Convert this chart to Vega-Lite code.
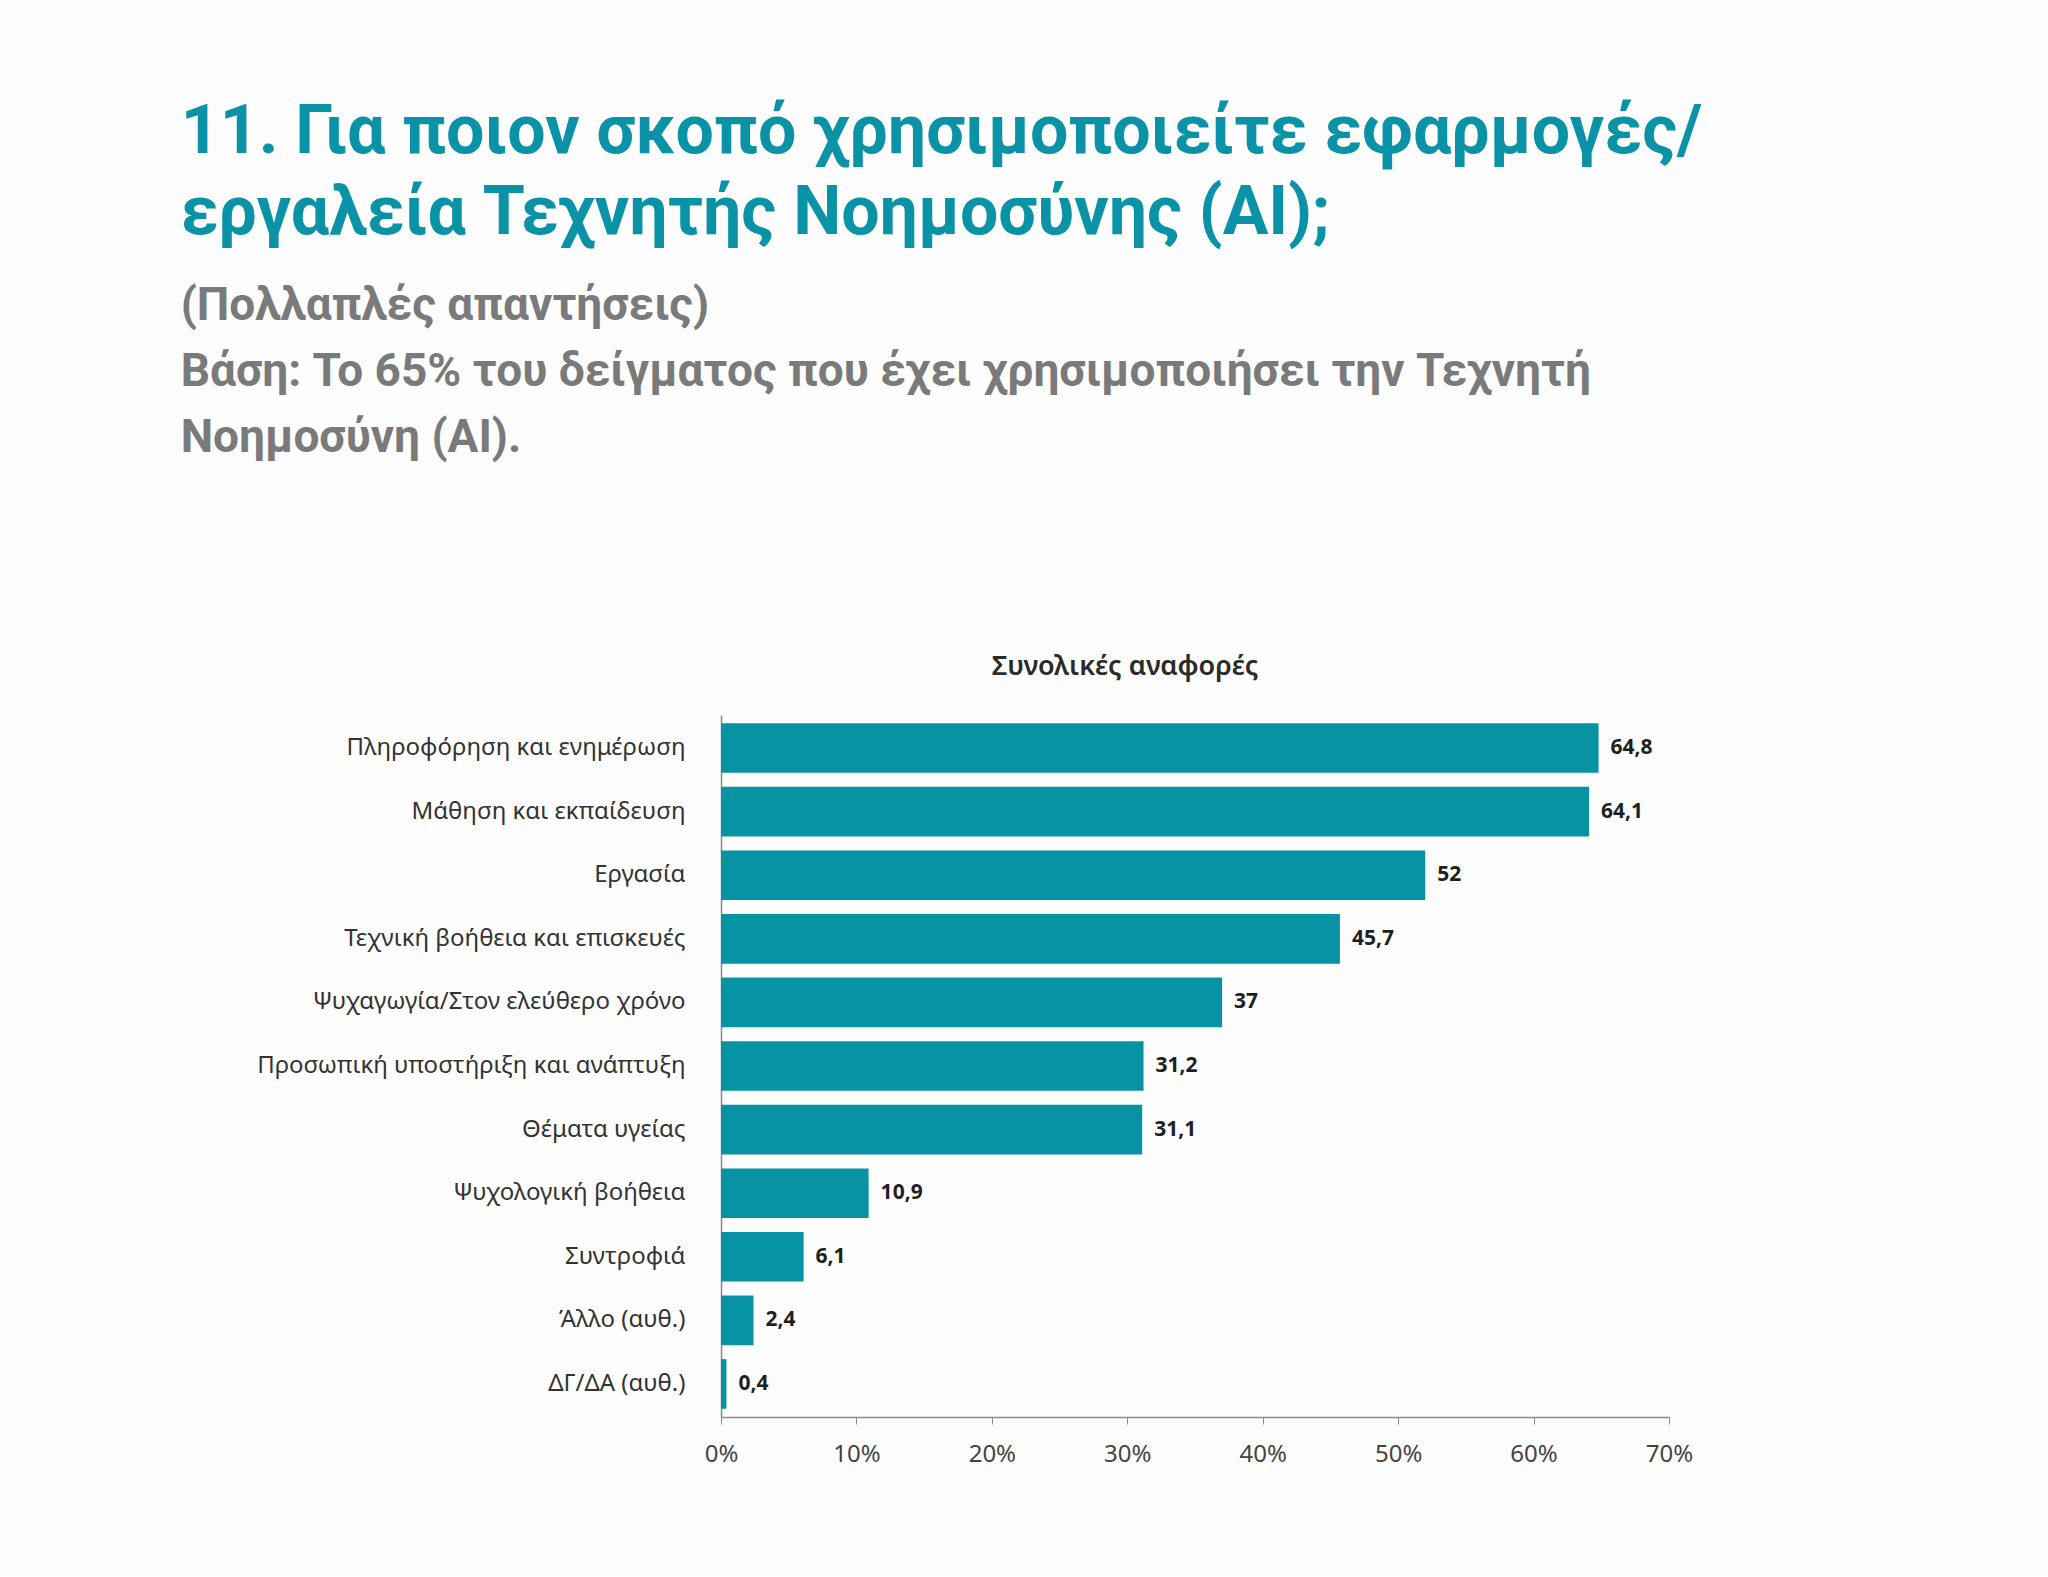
{
  "$schema": "https://vega.github.io/schema/vega-lite/v6.json",
  "background": "#fdfdfd",
  "padding": {"left": 180, "top": 99, "right": 400, "bottom": 110},
  "title": {
    "text": ["11. Για ποιον σκοπό χρησιμοποιείτε εφαρμογές/", "εργαλεία Τεχνητής Νοημοσύνης (AI);"],
    "subtitle": ["(Πολλαπλές απαντήσεις)", "Βάση: Το 65% του δείγματος που έχει χρησιμοποιήσει την Τεχνητή", "Νοημοσύνη (AI)."],
    "anchor": "start",
    "frame": "bounds",
    "dx": -76,
    "color": "#0a93a6",
    "font": "Roboto",
    "fontSize": 68,
    "fontWeight": "bold",
    "lineHeight": 81,
    "subtitleFont": "Roboto",
    "subtitleFontSize": 46,
    "subtitleFontWeight": "bold",
    "subtitleColor": "#7a7a7a",
    "subtitleLineHeight": 66,
    "subtitlePadding": 36,
    "offset": 192
  },
  "config": {
    "view": {"stroke": null},
    "locale": {"number": {"decimal": ",", "thousands": ".", "grouping": [3], "currency": ["", " €"]}}
  },
  "vconcat": [
    {
      "title": {
        "text": "Συνολικές αναφορές",
        "anchor": "middle",
        "frame": "group",
        "dx": -70,
        "font": "Noto Sans",
        "fontSize": 27,
        "fontWeight": 600,
        "color": "#2b2b2b",
        "offset": 34
      },
      "width": 948,
      "height": 702,
      "data": {
        "values": [
          {"category": "Πληροφόρηση και ενημέρωση", "value": 64.8},
          {"category": "Μάθηση και εκπαίδευση", "value": 64.1},
          {"category": "Εργασία", "value": 52},
          {"category": "Τεχνική βοήθεια και επισκευές", "value": 45.7},
          {"category": "Ψυχαγωγία/Στον ελεύθερο χρόνο", "value": 37},
          {"category": "Προσωπική υποστήριξη και ανάπτυξη", "value": 31.2},
          {"category": "Θέματα υγείας", "value": 31.1},
          {"category": "Ψυχολογική βοήθεια", "value": 10.9},
          {"category": "Συντροφιά", "value": 6.1},
          {"category": "Άλλο (αυθ.)", "value": 2.4},
          {"category": "ΔΓ/ΔΑ (αυθ.)", "value": 0.4}
        ]
      },
      "encoding": {
        "y": {
          "field": "category",
          "type": "nominal",
          "sort": null,
          "scale": {"paddingInner": 0.22, "paddingOuter": 0.13},
          "axis": {
            "title": null,
            "ticks": false,
            "domainColor": "#8a8a8a",
            "domainWidth": 1.5,
            "labelFont": "Noto Sans",
            "labelFontSize": 24,
            "labelColor": "#333333",
            "labelPadding": 36,
            "labelLimit": 700
          }
        },
        "x": {
          "field": "value",
          "type": "quantitative",
          "scale": {"domain": [0, 70], "nice": false},
          "axis": {
            "title": null,
            "values": [0, 10, 20, 30, 40, 50, 60, 70],
            "labelExpr": "datum.value + '%'",
            "labelFlush": false,
            "grid": false,
            "domainColor": "#8a8a8a",
            "domainWidth": 1.5,
            "tickColor": "#8a8a8a",
            "tickSize": 7,
            "labelFont": "Noto Sans",
            "labelFontSize": 24,
            "labelColor": "#444444",
            "labelPadding": 18
          }
        }
      },
      "layer": [
        {"mark": {"type": "bar", "color": "#0893a5"}},
        {
          "mark": {"type": "text", "align": "left", "dx": 12, "font": "Noto Sans", "fontSize": 21, "fontWeight": "bold", "color": "#1f1f1f"},
          "encoding": {"text": {"field": "value", "type": "quantitative", "format": "~g"}}
        }
      ]
    }
  ]
}
